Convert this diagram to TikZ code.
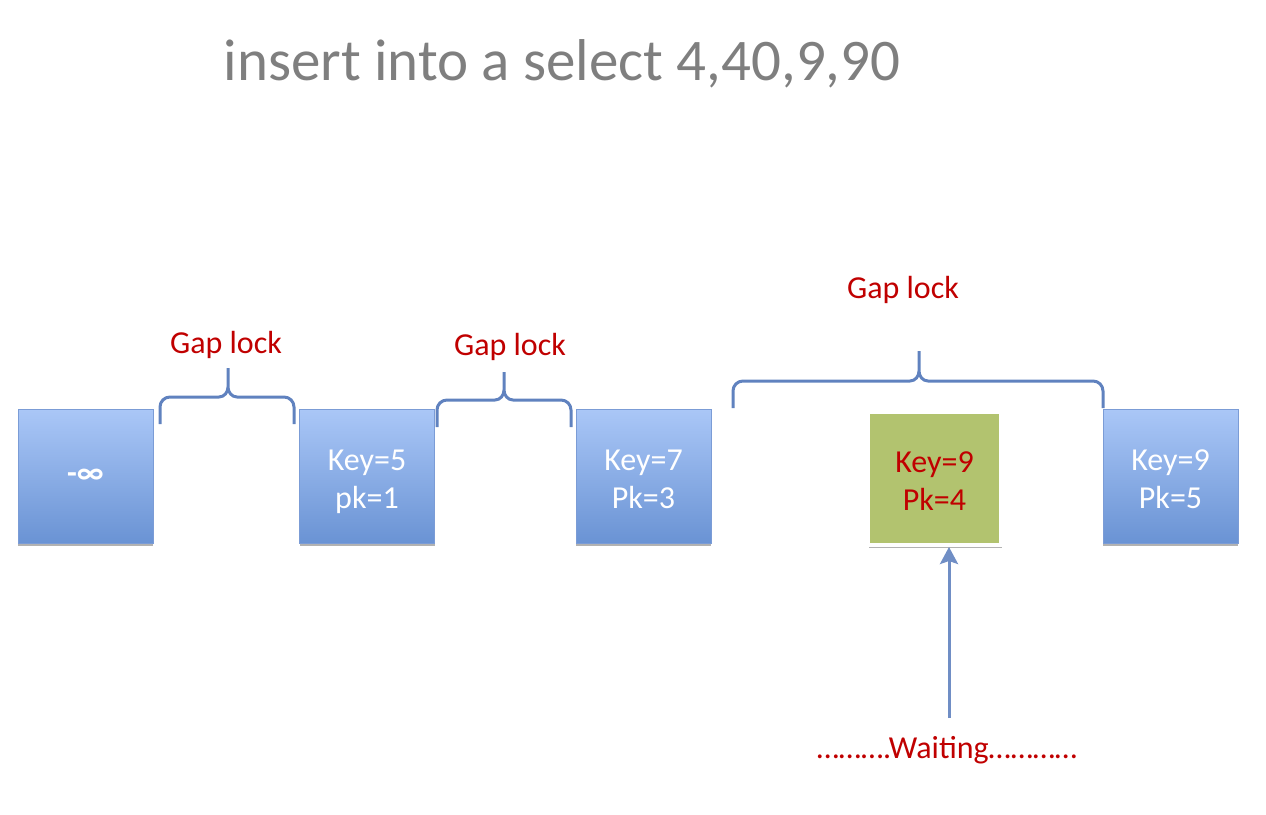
\documentclass[tikz,border=0pt]{standalone}
\usepackage{fontspec}
\setmainfont{Carlito}
\usetikzlibrary{shadows,arrows.meta}

\definecolor{boxtop}{HTML}{AAC7F7}
\definecolor{boxbot}{HTML}{6A93D4}
\definecolor{boxedge}{HTML}{7B9CD6}
\definecolor{waitgreen}{HTML}{B2C36F}
\definecolor{lockred}{HTML}{C00000}
\definecolor{bracecol}{HTML}{6082BF}
\definecolor{titlegray}{HTML}{7F7F7F}

\tikzset{
  keybox/.style={draw=boxedge, line width=0.8pt, top color=boxtop, bottom color=boxbot,
    minimum width=135pt, minimum height=134pt, inner sep=0pt, text=white, align=center,
    font=\fontsize{32}{38}\selectfont,
    drop shadow={shadow xshift=0pt, shadow yshift=-3pt, opacity=0.3, fill=black}},
  waitbox/.style={draw=white, line width=4pt, fill=waitgreen,
    minimum width=133pt, minimum height=133pt, inner sep=0pt, text=lockred, align=center,
    font=\fontsize{32}{38}\selectfont,
    drop shadow={shadow xshift=1pt, shadow yshift=-3pt, opacity=0.3, fill=black}},
  twoline/.style={text height=66pt, text depth=2pt},
  locklabel/.style={text=lockred, anchor=base, font=\fontsize{32}{38}\selectfont},
  gapbrace/.style={draw=bracecol, line width=3pt},
  waitarrow/.style={draw=bracecol!90!white, line width=3pt, -{Stealth[width=18pt,length=17pt,inset=3pt]}}
}

\begin{document}
\begin{tikzpicture}[x=1pt, y=-1pt]
  \useasboundingbox (0,0) rectangle (1266,814);

  \node[text=titlegray, anchor=base, font=\fontsize{59}{70}\selectfont] (title) at (562,80) {insert into a select 4,40,9,90};

  \node[keybox] (ninf) at (85.5,476) {\bfseries -∞};
  \node[keybox, twoline] (k5) at (367,476) {Key=5\\pk=1};
  \node[keybox, twoline] (k7) at (643.5,476) {Key=7\\Pk=3};
  \node[waitbox, twoline] (k9w) at (934.5,478.5) {Key=9\\Pk=4};
  \node[keybox, twoline] (k9) at (1170.5,476) {Key=9\\Pk=5};

  % gap braces
  \draw[gapbrace] (160,424) -- (160,407) to[out=90,in=180] (170,397) -- (219,397)
    to[out=0,in=-90] (228,387) -- (228,368)
    (228,387) to[out=-90,in=180] (237,397) -- (284,397) to[out=0,in=90] (294,407) -- (294,424);
  \draw[gapbrace] (437,427) -- (437,410) to[out=90,in=180] (447,400) -- (495,400)
    to[out=0,in=-90] (504,390) -- (504,372)
    (504,390) to[out=-90,in=180] (513,400) -- (561,400) to[out=0,in=90] (571,410) -- (571,427);
  \draw[gapbrace] (733,408) -- (733,391) to[out=90,in=180] (743,381) -- (910,381)
    to[out=0,in=-90] (919,371) -- (919,351)
    (919,371) to[out=-90,in=180] (928,381) -- (1093,381) to[out=0,in=90] (1103,391) -- (1103,408);

  \node[locklabel] (gap1) at (226,353) {Gap lock};
  \node[locklabel] (gap2) at (510,355) {Gap lock};
  \node[locklabel] (gap3) at (903,298) {Gap lock};

  \node[locklabel] (wait) at (947,758) {……….Waiting…………};
  \coordinate (wtail) at (949,718);
  \draw[waitarrow] (wtail) -- (k9w.south -| wtail);
\end{tikzpicture}
\end{document}
